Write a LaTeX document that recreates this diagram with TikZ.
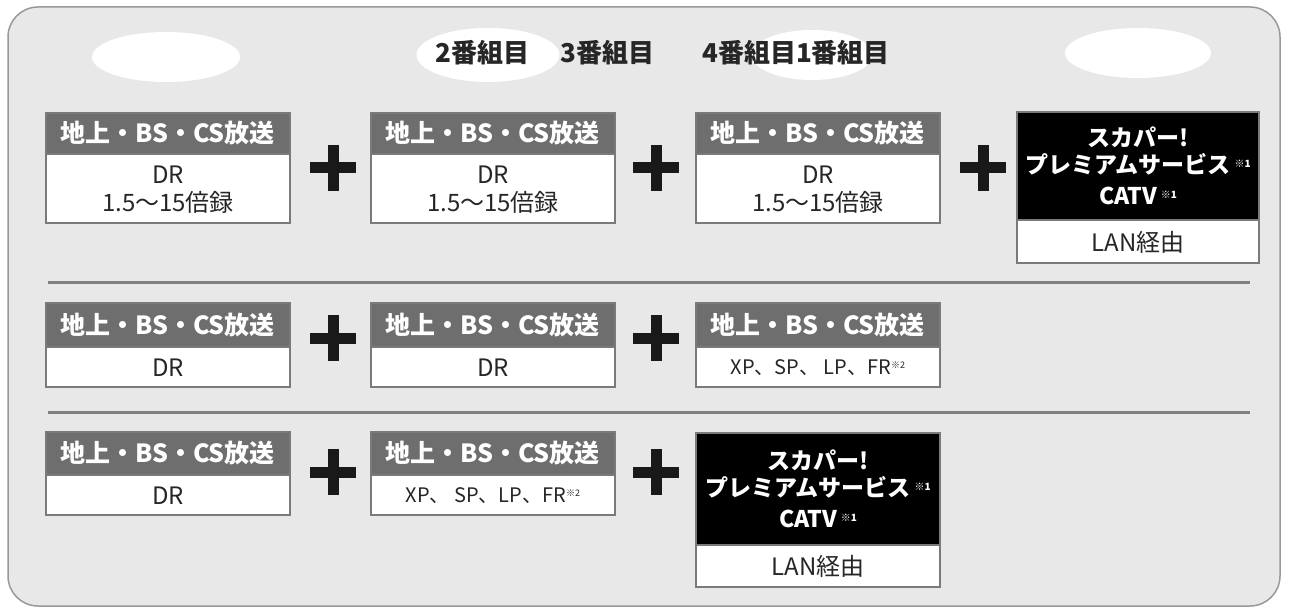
\documentclass[tikz,border=0pt]{standalone}
\usepackage{fontspec}
\setmainfont{Noto Sans CJK JP}
\usetikzlibrary{shapes.geometric}
\begin{document}
\begin{tikzpicture}[x=1pt,y=-1pt,
  hdr/.style={fill=hdrgray,draw=boxgray,line width=2pt},
  bdy/.style={fill=white,draw=boxgray,line width=2pt},
  blk/.style={fill=black,draw=boxgray,line width=2pt},
  htxt/.style={text=white,font=\fontsize{25}{25}\selectfont\bfseries,anchor=west,inner sep=0},
  btxt/.style={text=black!85,font=\fontsize{24}{28}\selectfont,align=center,inner sep=0},
  wtxt/.style={text=white,font=\fontsize{23}{25}\selectfont\bfseries,align=center,inner sep=0},
  plus/.style={line width=11pt,draw=black!90},
  ell/.style={fill=white,draw=none},
  toptxt/.style={font=\fontsize{26}{26}\selectfont\bfseries,text=black!85,inner sep=0}]
\definecolor{hdrgray}{HTML}{6E6E6E}
\definecolor{boxgray}{HTML}{7A7A7A}
\definecolor{bg}{HTML}{E8E8E8}
\useasboundingbox (0,0) rectangle (1293,612);
\fill[white] (0,0) rectangle (1293,612);
\draw[fill=bg,draw=black!40,line width=1.5pt,rounded corners=30pt] (8,7) rectangle (1280,606);
% ellipses
\node[ell,ellipse,minimum width=148,minimum height=50] (e1) at (166,57) {};
\node[ell,ellipse,minimum width=143,minimum height=54] (e2) at (488,55) {};
\node[ell,ellipse,minimum width=121,minimum height=50] (e3) at (812,55) {};
\node[ell,ellipse,minimum width=146,minimum height=50] (e4) at (1138,53) {};
\node[toptxt,anchor=west] (t2) at (435,53) {2番組目};
\node[toptxt,anchor=west] (t3) at (560,53) {3番組目};
\node[toptxt,anchor=west] (t4) at (702,53) {4番組目1番組目};
% helper
\newcommand\gbox[6]{% name, x, ytop, ymid, ybot, body
  \draw[hdr] (#2,#3) rectangle (#2+244,#4);
  \draw[bdy] (#2,#4) rectangle (#2+244,#5);
  \node[htxt] (#1h) at (#2+14,{(#3+#4)/2}) {地上・BS・CS放送};
  \node[btxt] (#1b) at (#2+122,{(#4+#5)/2+1}) {#6};}
% row 1
\gbox{a1}{46}{113}{154}{223}{DR\\1.5〜15倍録}
\gbox{a2}{371}{113}{154}{223}{DR\\1.5〜15倍録}
\gbox{a3}{696}{113}{154}{223}{DR\\1.5〜15倍録}
\draw[blk] (1017,112) rectangle (1259,220);
\draw[bdy] (1017,220) rectangle (1259,263);
\node[wtxt] (a4t) at (1138,166) {スカパー!\\[2pt]プレミアムサービス\,\raisebox{6pt}{\fontsize{10}{10}\selectfont ※1}\\[6pt]CATV\,\raisebox{6pt}{\fontsize{10}{10}\selectfont ※1}};
\node[btxt] (a4b) at (1138,242) {LAN経由};
\foreach \x/\n in {333/p1,656/p2,983/p3}{
  \coordinate (\n) at (\x,168);
  \draw[plus] ([xshift=-23pt]\n) -- ([xshift=23pt]\n);
  \draw[plus] ([yshift=-23pt]\n) -- ([yshift=23pt]\n);}
\draw[draw=black!50,line width=3pt] (48,283) -- (1250,283);
% row 2
\gbox{b1}{46}{303}{347}{387}{DR}
\gbox{b2}{371}{303}{347}{387}{DR}
\gbox{b3}{696}{303}{347}{387}{{\fontsize{20}{20}\selectfont XP、SP、 LP、FR\raisebox{6pt}{\fontsize{9}{9}\selectfont ※2}}}
\foreach \x/\n in {333/q1,656/q2}{
  \coordinate (\n) at (\x,338);
  \draw[plus] ([xshift=-23pt]\n) -- ([xshift=23pt]\n);
  \draw[plus] ([yshift=-23pt]\n) -- ([yshift=23pt]\n);}
\draw[draw=black!50,line width=3pt] (48,412) -- (1250,412);
% row 3
\gbox{c1}{46}{432}{475}{515}{DR}
\gbox{c2}{371}{432}{475}{515}{{\fontsize{20}{20}\selectfont XP、 SP、LP、FR\raisebox{6pt}{\fontsize{9}{9}\selectfont ※2}}}
\draw[blk] (696,433) rectangle (940,545);
\draw[bdy] (696,545) rectangle (940,587);
\node[wtxt] (c3t) at (818,489) {スカパー!\\[2pt]プレミアムサービス\,\raisebox{6pt}{\fontsize{10}{10}\selectfont ※1}\\[6pt]CATV\,\raisebox{6pt}{\fontsize{10}{10}\selectfont ※1}};
\node[btxt] (c3b) at (818,566) {LAN経由};
\foreach \x/\n in {333/r1,656/r2}{
  \coordinate (\n) at (\x,472);
  \draw[plus] ([xshift=-23pt]\n) -- ([xshift=23pt]\n);
  \draw[plus] ([yshift=-23pt]\n) -- ([yshift=23pt]\n);}
\end{tikzpicture}
\end{document}
